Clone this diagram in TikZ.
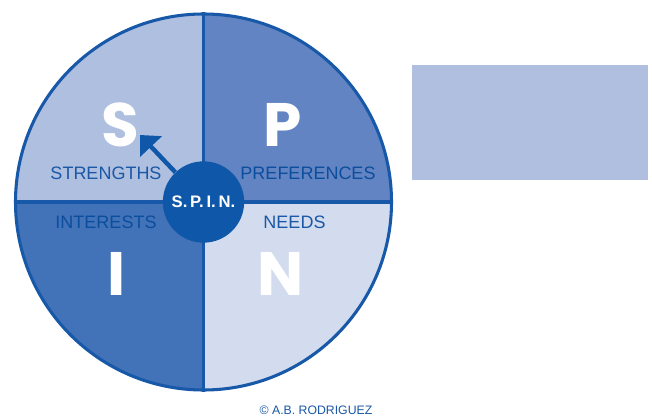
\documentclass[tikz,border=0pt]{standalone}
\usepackage{fontspec}
\setmainfont{Liberation Sans}
\newfontfamily\bigletterfont{Poppins}
\usetikzlibrary{arrows.meta}
\definecolor{ringblue}{HTML}{1759A8}
\definecolor{hubblue}{HTML}{0F57A8}
\definecolor{labelblue}{HTML}{1A58A6}
\definecolor{deeplabel}{HTML}{0B4E9E}
\definecolor{qlight}{HTML}{AFBFE0}
\definecolor{qmid}{HTML}{6384C2}
\definecolor{qdark}{HTML}{4272B8}
\definecolor{qpale}{HTML}{D3DCEE}
\definecolor{panelblue}{HTML}{B0BFE0}
\tikzset{
  quadlabel/.style={font=\fontsize{13.5pt}{15pt}\selectfont, text=labelblue, inner sep=0pt},
  bigletter/.style={font=\bigletterfont\bfseries\fontsize{46pt}{50pt}\selectfont, text=white, inner sep=0pt},
  hub/.style={circle, fill=hubblue, minimum size=61pt, inner sep=0pt,
    font=\bfseries\fontsize{12.5pt}{13pt}\selectfont, text=white},
  pointer/.style={draw=hubblue, line width=3.3pt, -{Triangle[length=12pt,width=22pt]}},
  divider/.style={draw=ringblue, line width=2.3pt},
}
\begin{document}
\begin{tikzpicture}[x=0.75pt, y=-0.75pt]
  \useasboundingbox (0,0) rectangle (652,420);
  \fill[white] (0,0) rectangle (652,420);

  % quadrants of the wheel
  \begin{scope}
    \clip (203.5,202) circle [radius=141pt];
    \fill[qlight] (0,0) rectangle (203.5,202);
    \fill[qmid] (203.5,0) rectangle (420,202);
    \fill[qdark] (0,202) rectangle (203.5,420);
    \fill[qpale] (203.5,202) rectangle (420,420);
  \end{scope}
  \node[circle, minimum size=282pt, inner sep=0pt, divider] (wheel) at (203.5,202) {};
  \draw[divider] (wheel.north) -- (wheel.south);
  \draw[divider] (wheel.west) -- (wheel.east);

  % side panel
  \node[fill=panelblue, minimum width=177pt, minimum height=86.25pt, inner sep=0pt, anchor=north west]
    (panel) at (412,65) {};

  % big initials
  \node[bigletter] (S) at (120,125) {S};
  \node[bigletter] (P) at (283,125) {P};
  \node[bigletter] (I) at (117,274) {I};
  \node[bigletter] (N) at (281,274) {N};

  % quadrant labels
  \node[quadlabel] (strengths) at (106,173) {STRENGTHS};
  \node[quadlabel, text=deeplabel] (preferences) at (308,173) {PREFERENCES};
  \node[quadlabel, text=deeplabel] (interests) at (106,222) {INTERESTS};
  \node[quadlabel] (needs) at (294.5,222) {NEEDS};

  % hub and pointer
  \node[hub] (spin) at (203.5,202) {S.\,P.\,I.\,N.};
  \coordinate (tip) at (140,135);
  \draw[pointer] (spin) -- (tip);

  % credit line
  \node[font=\fontsize{9.2pt}{10pt}\selectfont, text=labelblue, inner sep=0pt] (credit) at (316,410)
    {\textcopyright\ A.B. RODRIGUEZ};
\end{tikzpicture}
\end{document}
